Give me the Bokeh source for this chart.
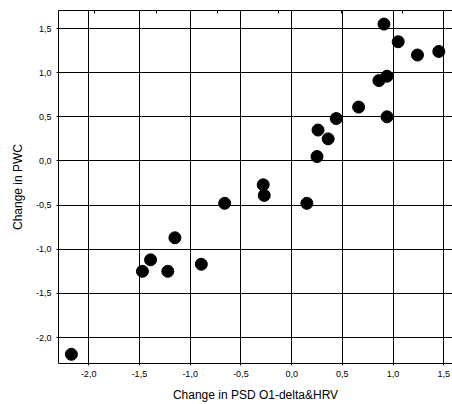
from bokeh.plotting import figure
from bokeh.models import Range1d, LinearAxis, FixedTicker, CustomJSTickFormatter, ColumnDataSource
from bokeh.embed import file_html
from bokeh.resources import INLINE

# Data
psd_change = [0.91, 1.05, 1.24, 1.45, 0.94, 0.86, 0.66, 0.94, 0.44, 0.26, 0.36, 0.25,
              -0.28, -0.27, 0.15, -0.66, -1.15, -1.39, -1.47, -1.22, -0.89, -2.17]
pwc_change = [1.55, 1.35, 1.20, 1.24, 0.96, 0.91, 0.61, 0.50, 0.48, 0.35, 0.25, 0.05,
              -0.27, -0.39, -0.48, -0.48, -0.87, -1.12, -1.25, -1.25, -1.17, -2.19]
x_ticks = [-2.0, -1.5, -1.0, -0.5, 0.0, 0.5, 1.0, 1.5]
y_ticks = [-2.0, -1.5, -1.0, -0.5, 0.0, 0.5, 1.0, 1.5]
top_ticks = [-1.944, -1.332, -0.729, -0.126, 0.487, 1.09]

FONT = "Liberation Sans"

src = ColumnDataSource(dict(x=psd_change, y=pwc_change))

p = figure(width=452, height=404, output_backend="svg", toolbar_location=None,
           x_range=Range1d(-2.297, 1.585), y_range=Range1d(-2.294, 1.704),
           min_border_left=58, min_border_top=10, min_border_right=0, min_border_bottom=41,
           background_fill_color="white", border_fill_color="white")

p.scatter("x", "y", source=src, size=12, color="black")

fmt = CustomJSTickFormatter(code="return tick.toFixed(1).replace('.', ',');")

p.xaxis.ticker = FixedTicker(ticks=x_ticks)
p.yaxis.ticker = FixedTicker(ticks=y_ticks)
for ax in (p.xaxis[0], p.yaxis[0]):
    ax.formatter = fmt
    ax.major_label_text_font = FONT
    ax.major_label_text_font_size = "9px"
    ax.major_label_text_color = "black"
    ax.axis_label_text_font = FONT
    ax.axis_label_text_font_size = "12px"
    ax.axis_label_text_font_style = "normal"
    ax.axis_label_text_color = "black"
    ax.axis_line_color = "black"
    ax.axis_line_width = 1
    ax.major_tick_line_color = "black"
    ax.major_tick_in = 0
    ax.major_tick_out = 2
    ax.minor_tick_line_color = None
    ax.major_label_standoff = 5

p.xaxis.axis_label = "Change in PSD O1-delta&HRV"
p.yaxis.axis_label = "Change in PWC"
p.xaxis.axis_label_standoff = 8
p.yaxis.axis_label_standoff = 8

top = LinearAxis(ticker=FixedTicker(ticks=top_ticks), axis_line_color="black",
                 major_tick_in=3, major_tick_out=0, major_tick_line_color="black",
                 minor_tick_line_color=None,
                 formatter=CustomJSTickFormatter(code="return '';"),
                 major_label_standoff=0)
p.add_layout(top, "above")

p.xgrid.ticker = FixedTicker(ticks=x_ticks)
p.ygrid.ticker = FixedTicker(ticks=y_ticks)
p.grid.grid_line_color = "black"
p.grid.grid_line_width = 1
p.grid.grid_line_alpha = 1.0

p.outline_line_color = None

open("out.html", "w").write(file_html(p, INLINE))
